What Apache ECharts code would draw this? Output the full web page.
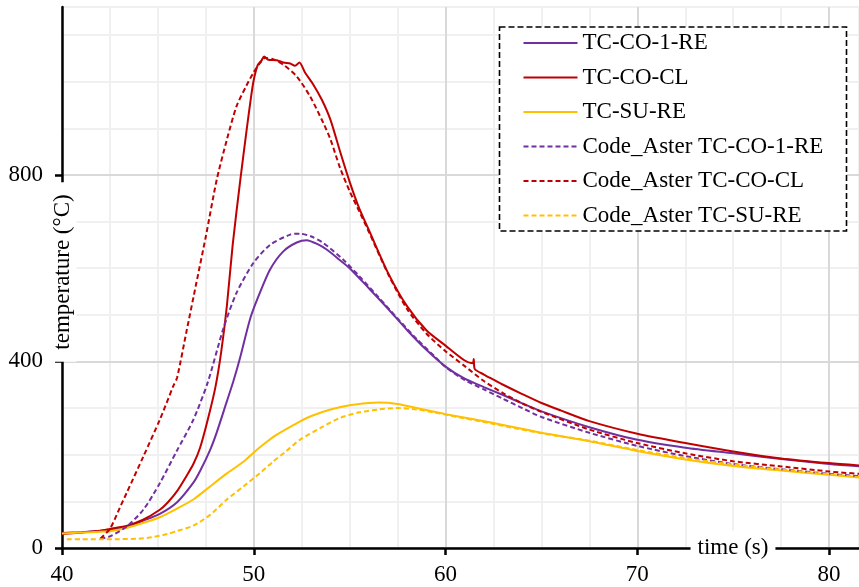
<!DOCTYPE html>
<html>
<head>
<meta charset="utf-8">
<script src="https://cdn.jsdelivr.net/npm/echarts@6/dist/echarts.min.js"></script>
<style>
  html, body { margin: 0; padding: 0; background: #fff; }
  #chart { width: 859px; height: 587px; }
</style>
</head>
<body>
<div id="chart"></div>
<script>
// Thermocouple readings (time in s, temperature in °C) and Code_Aster results
const seriesNames = [
  'TC-CO-1-RE', 'TC-CO-CL', 'TC-SU-RE',
  'Code_Aster TC-CO-1-RE', 'Code_Aster TC-CO-CL', 'Code_Aster TC-SU-RE'
];

const co1ReTime = [40, 41, 42, 42.5, 43.4, 44.2, 45.1, 46, 46.85, 47.2, 47.72, 48.07, 48.6, 48.94, 49.3, 49.8, 50.2, 50.85, 51.54, 52.24, 52.76, 53.3, 53.8, 54.5, 55, 56, 57, 58, 59, 60, 61, 62, 63, 64, 65, 67.5, 70, 72.5, 75, 77.5, 80, 81.6];
const co1ReTemp = [32, 34, 37, 39, 46, 58, 73, 98, 140, 165, 210, 248, 315, 358, 410, 490, 535, 597, 636, 655, 660, 652, 640, 617, 600, 557, 513, 467, 425, 389, 363, 345, 328, 310, 293, 259, 232, 215, 203, 191, 180, 175];

const coClTime = [40, 41, 42, 42.5, 43.4, 44.2, 45.1, 45.5, 46, 46.5, 46.85, 47.2, 47.6, 48.0, 48.3, 48.6, 48.9, 49.3, 49.63, 49.86, 50.0, 50.2, 50.4, 50.54, 50.76, 51.2, 51.55, 51.9, 52.15, 52.38, 52.68, 53.1, 53.55, 54, 54.5, 55, 55.5, 56, 57, 58, 59, 60, 61, 61.42, 61.47, 61.52, 62, 62.5, 63, 64, 65, 66, 67.5, 70, 72.5, 75, 77.5, 80, 81.6];
const coClTemp = [30, 33, 37, 41, 48, 60, 82, 97, 122, 155, 180, 215, 275, 345, 420, 520, 650, 790, 897, 968, 1004, 1035, 1045, 1054, 1047, 1046, 1041, 1039, 1034, 1041, 1019, 994, 961, 918, 850, 785, 728, 682, 590, 518, 467, 434, 402, 396, 405, 384, 372, 361, 350, 330, 311, 295, 272, 245, 225, 207, 192, 182, 177];

const suReTime = [40, 41, 42, 42.5, 43.37, 44.24, 45.1, 45.97, 46.85, 47.72, 48.6, 49.46, 50, 50.6, 51.2, 52.4, 53, 54, 55, 56, 56.5, 57.5, 58.5, 60, 62.5, 65, 67.5, 70, 72.5, 75, 77.5, 80, 81.6];
const suReTemp = [31, 33, 35, 36, 43, 54, 66, 84, 104, 132, 160, 185, 205, 225, 243, 271, 283, 297, 306, 311, 312, 309, 300, 287, 268, 247, 229, 208, 190, 176, 166, 157, 151];

const asterCo1ReTime = [42, 42.5, 43.37, 44.24, 45.1, 45.97, 46.85, 47.6, 48.41, 49.1, 49.98, 50.85, 51.9, 52.4, 53, 53.63, 54.67, 55.5, 56.5, 57.5, 58.5, 59.5, 60, 61, 62, 63, 64, 65, 67.5, 70, 72.5, 75, 77.5, 80, 81.6];
const asterCo1ReTemp = [20, 25, 46, 82, 139, 207, 275, 355, 470, 547, 611, 650, 672, 674, 668, 654, 618, 583, 538, 492, 448, 408, 388, 360, 340, 320, 300, 281, 247, 219, 197, 180, 169, 159, 154];

const asterCoClTime = [42, 42.5, 43, 43.37, 44.24, 45.1, 45.8, 46, 46.5, 47, 47.5, 48.07, 48.6, 49.1, 49.6, 49.98, 50.33, 50.6, 51, 51.55, 52.24, 52.94, 53.63, 54, 54.5, 55, 55.5, 56, 57, 58, 59, 60, 61, 62, 63, 64, 65, 67.5, 70, 72.5, 75, 77.5, 80, 81.6];
const asterCoClTemp = [20, 41, 85, 118, 196, 275, 347, 365, 466, 567, 668, 790, 876, 947, 990, 1019, 1040, 1051, 1048, 1036, 1011, 968, 911, 876, 815, 765, 722, 678, 588, 512, 460, 422, 390, 358, 332, 310, 292, 254, 225, 203, 186, 175, 164, 159];

const asterSuReTime = [40.25, 41, 42, 43, 44, 44.7, 45.5, 45.97, 46.85, 47.72, 48.6, 49.46, 50.33, 51, 51.7, 52.4, 53.5, 54.5, 55.5, 56.5, 57.5, 58.5, 59.5, 60, 62.5, 65, 67.5, 70, 72.5, 75, 77.5, 80, 81.6];
const asterSuReTemp = [19, 19, 19, 19, 20, 23, 30, 36, 48, 71, 104, 132, 161, 185, 208, 232, 258, 279, 291, 297, 300, 297, 290, 286, 266, 246, 230, 210, 193, 179, 168, 158, 152];

const xTickValues = [40, 50, 60, 70, 80];
const yTickValues = [0, 400, 800];

const seriesColors = ['#7030A0', '#C00000', '#FFC000', '#7030A0', '#C00000', '#FFC000'];
const FONT = '"Liberation Serif", "Times New Roman", serif';

function pairs(ts, vs) { return ts.map((t, i) => [t, vs[i]]); }

const seriesData = [
  pairs(co1ReTime, co1ReTemp),
  pairs(coClTime, coClTemp),
  pairs(suReTime, suReTemp),
  pairs(asterCo1ReTime, asterCo1ReTemp),
  pairs(asterCoClTime, asterCoClTemp),
  pairs(asterSuReTime, asterSuReTemp)
];

const chart = echarts.init(document.getElementById('chart'), null, { renderer: 'canvas' });

const X_MIN = 40, X_MAX = 81.56, Y_MIN = 0, Y_MAX = 1160;

chart.setOption({
  animation: false,
  backgroundColor: '#fff',
  grid: { left: 62, right: -1, top: 7, bottom: 39, containLabel: false },
  xAxis: [
    {
      type: 'value', min: X_MIN, max: X_MAX, interval: 10, z: 1,
      axisLine: { show: true, onZero: false, lineStyle: { color: '#000', width: 2.5 } },
      axisTick: { show: true, length: 7, customValues: xTickValues, lineStyle: { color: '#000', width: 2.5 } },
      axisLabel: { customValues: xTickValues, color: '#000', fontFamily: FONT, fontSize: 23, margin: 15 },
      splitLine: { show: true, lineStyle: { color: '#D9D9D9', width: 2 } }
    },
    {
      type: 'value', min: X_MIN, max: X_MAX, interval: 2.5, position: 'bottom',
      axisLine: { show: false }, axisTick: { show: false }, axisLabel: { show: false },
      splitLine: { show: true, lineStyle: { color: '#F0F0F0', width: 2 } }
    }
  ],
  yAxis: [
    {
      type: 'value', min: Y_MIN, max: Y_MAX, interval: 400, z: 1,
      axisLine: { show: true, onZero: false, lineStyle: { color: '#000', width: 2.5 } },
      axisTick: { show: true, length: 7, customValues: yTickValues, lineStyle: { color: '#000', width: 2.5 } },
      axisLabel: { customValues: yTickValues, color: '#000', fontFamily: FONT, fontSize: 23, margin: 19 },
      splitLine: { show: true, lineStyle: { color: '#D9D9D9', width: 2 } }
    },
    {
      type: 'value', min: Y_MIN, max: Y_MAX, interval: 100, position: 'left',
      axisLine: { show: false }, axisTick: { show: false }, axisLabel: { show: false },
      splitLine: { show: true, lineStyle: { color: '#F0F0F0', width: 2 } }
    }
  ],
  legend: {
    show: true, orient: 'vertical', left: 499.5, top: 27,
    padding: [4, 21, 4, 23], itemWidth: 54, itemHeight: 14, itemGap: 10.5,
    itemStyle: { opacity: 0, borderWidth: 0 },
    textStyle: { fontFamily: FONT, fontSize: 23, color: '#000', lineHeight: 24 },
    data: seriesNames
  },
  graphic: [
    {
      type: 'rect', z: 3, silent: true,
      shape: { x: 499.5, y: 27, width: 347, height: 204 },
      style: { fill: '#fff', stroke: '#000', lineWidth: 1.6, lineDash: [6, 3] }
    },
    {
      type: 'text', z: 50, x: 63, y: 272, rotation: Math.PI / 2, silent: true,
      style: {
        text: 'temperature (°C)', font: '23px ' + FONT, fill: '#000',
        align: 'center', verticalAlign: 'middle', backgroundColor: '#fff', padding: [2, 12]
      }
    },
    {
      type: 'text', z: 50, x: 733, y: 548, silent: true,
      style: {
        text: 'time (s)', font: '23px ' + FONT, fill: '#000',
        align: 'center', verticalAlign: 'middle', backgroundColor: '#fff', padding: [6, 7]
      }
    }
  ],
  series: seriesNames.map((name, i) => ({
    name: name,
    type: 'line',
    xAxisIndex: 0,
    yAxisIndex: 0,
    data: seriesData[i],
    symbol: 'none',
    showSymbol: false,
    smooth: 0.25,
    clip: true,
    lineStyle: { color: seriesColors[i], width: 2, type: i < 3 ? 'solid' : [5, 3] },
    itemStyle: { color: seriesColors[i] }
  }))
});
</script>
</body>
</html>
